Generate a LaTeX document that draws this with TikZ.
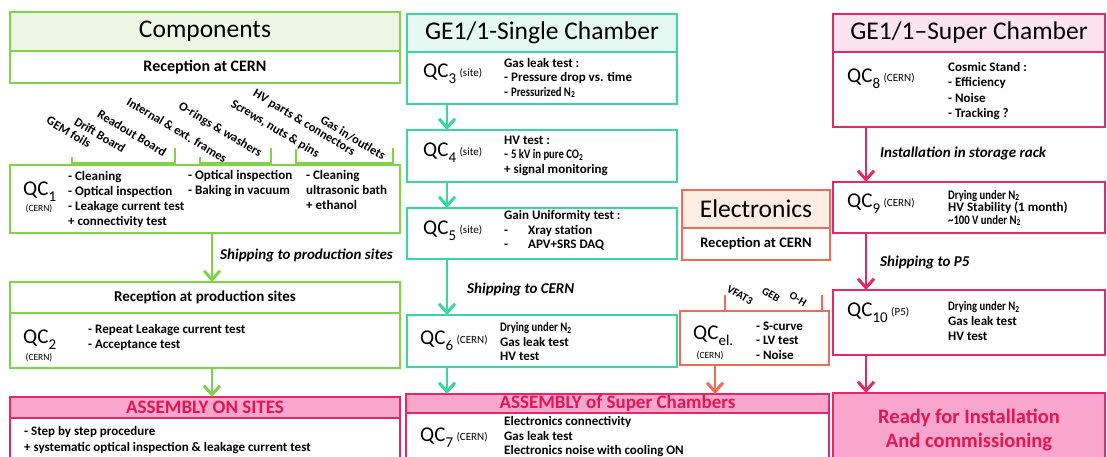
\documentclass[tikz,border=0pt]{standalone}
\usepackage{fontspec}
\setmainfont{Carlito}
\usepackage{graphicx}
\usetikzlibrary{arrows.meta}
\definecolor{grn}{RGB}{128,210,72}
\definecolor{grnfill}{RGB}{238,246,229}
\definecolor{mint}{RGB}{58,214,160}
\definecolor{mintfill}{RGB}{229,248,241}
\definecolor{elec}{RGB}{240,108,88}
\definecolor{elecfill}{RGB}{253,237,227}
\definecolor{crim}{RGB}{228,40,100}
\definecolor{crimfill}{RGB}{251,228,239}
\definecolor{pinkfill}{RGB}{249,166,206}
\definecolor{hottxt}{RGB}{226,22,82}
\newcommand{\sz}[2]{\fontsize{#1}{#2}\selectfont}
\newcommand{\narrow}[1]{\scalebox{0.82}[1]{#1}}
\newcommand{\qcsub}[1]{\raisebox{-6pt}{\sz{15}{15}#1}}
\newcommand{\qcwhere}[1]{\,\raisebox{1pt}{\sz{11}{12}#1}}

\begin{document}
\begin{tikzpicture}[x=1pt,y=-1pt,
  bx/.style={draw=#1,line width=1.5pt,anchor=north west,inner sep=0pt,outer sep=0pt},
  ttl/.style={font=\sz{25.5}{30}},
  rec/.style={font=\sz{16}{19}\bfseries},
  txt/.style={anchor=west,align=left,inner sep=0pt,font=\sz{13}{14.5}\bfseries},
  qc/.style={anchor=base west,inner sep=0pt,font=\sz{21}{25}},
  note/.style={inner sep=0pt,font=\sz{9.5}{11}},
  ship/.style={anchor=west,inner sep=0pt,font=\sz{15}{18}\bfseries\itshape},
  tag/.style={inner sep=0pt,rotate=-31,font=\sz{12.5}{15}\bfseries},
  hot/.style={text=hottxt,font=\sz{19}{21}\bfseries},
  flow/.style={draw=#1,line width=1.5pt,-{Straight Barb[length=9pt,width=16pt,line width=3pt]}}]
\path[use as bounding box,clip] (0,0) rectangle (1107,457);

\node[bx=grn,fill=grnfill,minimum width=390,minimum height=39,ttl] (comp) at (10,12) {Components};
\node[bx=grn,minimum width=390,minimum height=32,rec] (comprec) at (10,51) {Reception at CERN};
\node[tag] at (69,132) {GEM foils};
\node[tag] at (100,135) {Drift Board};
\node[tag] at (132,133) {Readout Board};
\node[tag] at (177,130) {Internal \& ext. frames};
\node[tag] at (220,130) {O-rings \& washers};
\node[tag] at (275,129) {Screws, nuts \& pins};
\node[tag] at (304,123) {HV parts \& connectors};
\node[tag] at (353,138) {Gas in/outlets};
\draw[grn,line width=1.5pt] (72,157) |- (175,163) -- (175,148);
\draw[grn,line width=1.5pt] (200,157) |- (271,163) -- (271,148);
\draw[grn,line width=1.5pt] (296,149) |- (393,163) -- (393,148);
\node[bx=grn,minimum width=390,minimum height=68] (qc1) at (10,165) {};
\node[qc] (qc1l) at (23,195) {QC\qcsub{1}};
\node[note] (qc1s) at (39,209) {(CERN)};
\node[txt,font=\sz{13}{15}\bfseries] (qc1a) at (68,199.5) {- Cleaning\\- Optical inspection\\- Leakage current test\\+ connectivity test};
\node[txt,font=\sz{13}{15}\bfseries] (qc1b) at (188,184) {- Optical inspection\\- Baking in vacuum};
\node[txt,font=\sz{13}{15}\bfseries] (qc1c) at (306,190) {- Cleaning\\ultrasonic bath\\+ ethanol};
\node[bx=grn,minimum width=390,minimum height=31,font=\sz{15}{18}\bfseries] (prod) at (10,282) {Reception at production sites};
\node[bx=grn,minimum width=390,minimum height=55] (qc2) at (10,313) {};
\node[qc] (qc2l) at (23,343) {QC\qcsub{2}};
\node[note] (qc2s) at (39,358) {(CERN)};
\node[txt] (qc2a) at (88,337.5) {- Repeat Leakage current test\\- Acceptance test};
\node[bx=crim,fill=pinkfill,minimum width=390,minimum height=21,hot] (asite) at (10,397) {ASSEMBLY ON SITES};
\node[bx=crim,minimum width=390,minimum height=70] (asiteb) at (10,418) {};
\node[txt,font=\sz{13}{16}\bfseries] (asitea) at (24,440) {- Step by step procedure\\+ systematic optical inspection \& leakage current test};
\coordinate (gx) at (212,0);
\draw[flow=grn] (qc1.south -| gx) -- (prod.north -| gx);
\draw[flow=grn] (qc2.south -| gx) -- (asite.north -| gx);
\node[ship] at (220,255) {Shipping to production sites};

\node[bx=mint,fill=mintfill,minimum width=270,minimum height=38,ttl] (sgl) at (407,14) {GE1/1-Single Chamber};
\node[bx=mint,minimum width=270,minimum height=52] (qc3) at (407,52) {};
\node[qc] (qc3l) at (423,78) {QC\qcsub{3}\qcwhere{(site)}};
\node[txt] (qc3a) at (504,78) {Gas leak test :\\- Pressure drop vs. time\\- \narrow{Pressurized N\textsubscript{2}}};
\node[bx=mint,minimum width=270,minimum height=52] (qc4) at (407,130) {};
\node[qc] (qc4l) at (423,157) {QC\qcsub{4}\qcwhere{(site)}};
\node[txt] (qc4a) at (504,155.5) {HV test :\\- \narrow{5 kV in pure CO\textsubscript{2}}\\+ signal monitoring};
\node[bx=mint,minimum width=270,minimum height=51] (qc5) at (407,208) {};
\node[qc] (qc5l) at (423,234) {QC\qcsub{5}\qcwhere{(site)}};
\node[txt] (qc5a) at (504,230.5) {Gain Uniformity test :\\\makebox[24pt][l]{-}Xray station\\\makebox[24pt][l]{-}APV+SRS DAQ};
\node[bx=mint,minimum width=270,minimum height=52] (qc6) at (407,315) {};
\node[qc] (qc6l) at (420,344) {QC\qcsub{6}\qcwhere{(CERN)}};
\node[txt] (qc6a) at (500,341.5) {\narrow{Drying under N\textsubscript{2}}\\Gas leak test\\HV test};
\node[bx=crim,fill=pinkfill,minimum width=423,minimum height=19,hot] (asup) at (406,394) {ASSEMBLY of Super Chambers};
\node[bx=crim,minimum width=423,minimum height=70] (qc7) at (406,413) {};
\node[qc] (qc7l) at (420,441) {QC\qcsub{7}\qcwhere{(CERN)}};
\node[txt] (qc7a) at (504,437) {Electronics connectivity\\Gas leak test\\Electronics noise with cooling ON};
\coordinate (mx) at (447,0);
\draw[flow=mint] (qc3.south -| mx) -- (qc4.north -| mx);
\draw[flow=mint] (qc4.south -| mx) -- (qc5.north -| mx);
\draw[flow=mint] (qc5.south -| mx) -- (qc6.north -| mx);
\draw[flow=mint] (qc6.south -| mx) -- (asup.north -| mx);
\node[ship] at (467,289) {Shipping to CERN};

\node[bx=elec,fill=elecfill,minimum width=148,minimum height=38,ttl] (elc) at (682,190) {Electronics};
\node[bx=elec,minimum width=148,minimum height=32,font=\sz{14.5}{17}\bfseries] (elcrec) at (682,228) {Reception at CERN};
\node[tag,font=\sz{11}{13}\bfseries,rotate=1] at (740,295) {VFAT3};
\node[tag,font=\sz{11}{13}\bfseries,rotate=1] at (771,295) {GEB};
\node[tag,font=\sz{11}{13}\bfseries,rotate=1] at (798,299) {O-H};
\draw[elec,line width=1.5pt] (725,311) -- (725,295);
\draw[elec,line width=1.5pt] (822,311) -- (822,295);
\node[bx=elec,minimum width=149,minimum height=54] (qcel) at (680,311) {};
\node[qc] (qcell) at (693,339) {QC\qcsub{el.}};
\node[note] (qcels) at (710,356) {(CERN)};
\node[txt] (qcela) at (756,340.5) {- S-curve\\- LV test\\- Noise};
\coordinate (ex) at (715,0);
\draw[flow=elec] (qcel.south -| ex) -- (asup.north -| ex);

\node[bx=crim,fill=crimfill,minimum width=272,minimum height=38,ttl] (sup) at (833,14) {GE1/1--Super Chamber};
\node[bx=crim,minimum width=272,minimum height=75] (qc8) at (833,52) {};
\node[qc] (qc8l) at (847,83) {QC\qcsub{8}\qcwhere{(CERN)}};
\node[txt,font=\sz{13}{15.3}\bfseries] (qc8a) at (948,91) {Cosmic Stand :\\- Efficiency\\- Noise\\- Tracking ?};
\node[bx=crim,minimum width=272,minimum height=51] (qc9) at (833,182) {};
\node[qc] (qc9l) at (847,207) {QC\qcsub{9}\qcwhere{(CERN)}};
\node[txt,font=\sz{13}{12.5}\bfseries] (qc9a) at (948,208) {\narrow{Drying under N\textsubscript{2}}\\HV Stability (1 month)\\\narrow{\textasciitilde 100 V under N\textsubscript{2}}};
\node[bx=crim,minimum width=272,minimum height=65] (qc10) at (833,290) {};
\node[qc] (qc10l) at (847,316) {QC\qcsub{10}\qcwhere{(P5)}};
\node[txt,font=\sz{13}{15}\bfseries] (qc10a) at (948,321) {\narrow{Drying under N\textsubscript{2}}\\Gas leak test\\HV test};
\node[bx=crim,fill=pinkfill,minimum width=272,minimum height=74,align=center,text=hottxt,font=\sz{20.5}{24}\bfseries] (ready) at (833,393) {Ready for Installation\\And commissioning};
\coordinate (rx) at (866,0);
\draw[flow=crim] (qc8.south -| rx) -- (qc9.north -| rx);
\draw[flow=crim] (qc9.south -| rx) -- (qc10.north -| rx);
\draw[flow=crim] (qc10.south -| rx) -- (ready.north -| rx);
\node[ship] at (880,153) {Installation in storage rack};
\node[ship] at (880,262) {Shipping to P5};
\end{tikzpicture}
\end{document}
